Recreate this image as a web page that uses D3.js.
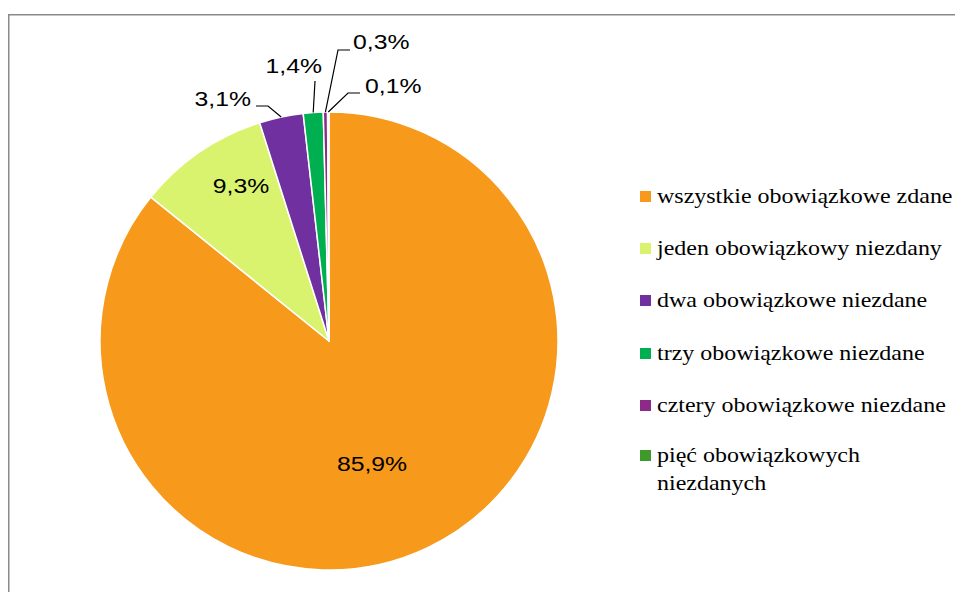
<!DOCTYPE html>
<head>
<meta charset="utf-8">
<style>
body { margin: 0; background: #fff; }
svg { display: block; }
</style>
</head>
<body>
<svg width="955" height="592"></svg>
<script src="https://d3js.org/d3.v7.min.js"></script>
<script>

var categories = ["wszystkie obowiązkowe zdane", "jeden obowiązkowy niezdany", "dwa obowiązkowe niezdane",
                  "trzy obowiązkowe niezdane", "cztery obowiązkowe niezdane", "pięć obowiązkowych niezdanych"];
var values = [85.9, 9.3, 3.1, 1.4, 0.3, 0.1];
var valueLabels = ["85,9%", "9,3%", "3,1%", "1,4%", "0,3%", "0,1%"];
var colors = ["#f7991a", "#d9f36f", "#7030a0", "#00b050", "#8c2a88", "#3f9a2c"];

var svg = d3.select("svg");

// chart frame (right and bottom edges fall outside the picture)
svg.append("rect")
    .attr("x", 8.75).attr("y", 14.75)
    .attr("width", 960).attr("height", 600)
    .attr("fill", "none").attr("stroke", "#8a8a8a").attr("stroke-width", 1.5);

var cx = 329, cy = 341, r = 229;

var pie = d3.pie().sort(null).value(function(d) { return d; });
var arcs = pie(values);
var arc = d3.arc().innerRadius(0).outerRadius(r);
var edge = d3.arc().innerRadius(r).outerRadius(r);

var g = svg.append("g").attr("transform", "translate(" + cx + "," + cy + ")");

g.selectAll("path.slice")
  .data(arcs)
  .enter().append("path")
    .attr("class", "slice")
    .attr("d", arc)
    .attr("fill", function(d, i) { return colors[i]; })
    .attr("stroke", "#fff")
    .attr("stroke-width", 1.5)
    .attr("stroke-linejoin", "round");

// label layout (relative to centre): text x, baseline y, anchor, leader elbow
var labelLayout = [
  {x: 43, y: 130, anchor: "middle"},
  {x: -88, y: -148, anchor: "middle"},
  {x: -78, y: -235, anchor: "end", elbow: [-61, -235], knee: [-73, -235]},
  {x: -7, y: -268, anchor: "end", elbow: [-14, -260], knee: [-14, -260]},
  {x: 24, y: -292, anchor: "start", elbow: [9, -291], knee: [21, -291]},
  {x: 36, y: -248, anchor: "start", elbow: [19, -248], knee: [31, -248]}
];

arcs.forEach(function(d, i) {
  var L = labelLayout[i];
  if (L.elbow) {
    var p = edge.centroid(d);
    g.append("polyline")
      .attr("points", [p, L.elbow, L.knee].map(function(q) { return q.join(","); }).join(" "))
      .attr("fill", "none").attr("stroke", "#000").attr("stroke-width", 1.2);
  }
  g.append("text")
    .attr("transform", "translate(" + L.x + "," + L.y + ") scale(1.18,1)")
    .attr("text-anchor", L.anchor)
    .attr("font-family", "'Liberation Sans', Arial, sans-serif")
    .attr("font-size", 21)
    .attr("fill", "#000")
    .text(valueLabels[i]);
});

// legend
var legend = svg.append("g").attr("transform", "translate(640,0)");
var rowY = [203, 255, 307, 360, 412, 462];
var wrapped = [[categories[0]], [categories[1]], [categories[2]], [categories[3]], [categories[4]],
               ["pięć obowiązkowych", "niezdanych"]];

categories.forEach(function(c, i) {
  legend.append("rect")
    .attr("x", 0).attr("y", rowY[i] - 12)
    .attr("width", 11).attr("height", 11)
    .attr("fill", colors[i]);
  var t = legend.append("text")
    .attr("transform", "translate(17,0) scale(1.09,1)")
    .attr("font-family", "'Liberation Serif', 'Times New Roman', serif")
    .attr("font-size", 22)
    .attr("fill", "#000");
  wrapped[i].forEach(function(line, j) {
    t.append("tspan").attr("x", 0).attr("y", rowY[i] + j * 28).text(line);
  });
});

</script>
</body>
